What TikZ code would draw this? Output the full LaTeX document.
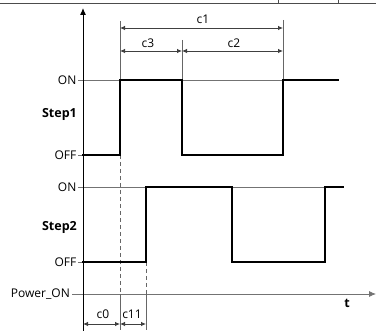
\documentclass[tikz,border=0pt]{standalone}
\usepackage{fontspec}
\setmainfont{Open Sans}
\usetikzlibrary{arrows.meta}
\begin{document}
\begin{tikzpicture}[x=1pt,y=-1pt,
  grid/.style={draw=black!55,line width=0.8pt},
  sig/.style={draw=black,line width=2.4pt,line cap=rect,line join=miter},
  dimline/.style={draw=black!75,line width=0.8pt,{Latex[length=5pt,width=4.5pt]}-{Latex[length=5pt,width=4.5pt]}},
  ext/.style={draw=black!60,line width=0.9pt},
  dsh/.style={draw=black!60,line width=0.9pt,dash pattern=on 4pt off 3pt},
  lab/.style={font=\fontsize{12}{14}\selectfont,inner sep=1pt},
  blab/.style={font=\fontsize{12.5}{15}\selectfont\bfseries,inner sep=1pt}]
\useasboundingbox (0,0) rectangle (376,331);
% cropped table row at top
\draw[draw=black!70,line width=0.8pt] (0,3.5) -- (376,3.5);
\draw[draw=black!70,line width=0.8pt] (278,0) -- (278,3.5) (338,0) -- (338,3.5);
% coordinates
\coordinate (o) at (83,331);
\coordinate (ytop) at (83,8);
\coordinate (pl) at (72,294);
\coordinate (pr) at (376,294);
% grid / ON levels
\draw[grid] (78,80) -- (283,80);
\draw[grid] (78,187) -- (325,187);
\draw[grid] (78,155) -- (83,155);
\draw[grid] (78,262) -- (83,262);
\draw[grid,-{Latex[length=7pt,width=6pt]}] (pl) -- (pr);
% y axis
\draw[draw=black,line width=1pt,-{Latex[length=7pt,width=6pt]}] (o) -- (ytop);
% extension lines
\draw[ext] (120,21) -- (120,80);
\draw[ext] (182,40) -- (182,80);
\draw[ext] (283,20) -- (283,80);
% dashed lines
\draw[dsh] (120,155) -- (120,294);
\draw[dsh] (146,262) -- (146,294);
\draw[ext] (120,294) -- (120,330);
\draw[ext] (146,294) -- (146,330);
% dimension arrows
\coordinate (c1a) at (120,28); \coordinate (c1b) at (283,28);
\coordinate (c3a) at (120,51); \coordinate (c3b) at (182,51);
\coordinate (c2a) at (182,51); \coordinate (c2b) at (283,51);
\coordinate (c0a) at (83,324); \coordinate (c0b) at (120,324);
\coordinate (c11a) at (120,324); \coordinate (c11b) at (146,324);
\draw[dimline] (c1a) -- (c1b);
\draw[dimline] (c3a) -- (c3b);
\draw[dimline] (c2a) -- (c2b);
\draw[dimline] (c0a) -- (c0b);
\draw[dimline] (c11a) -- (c11b);
\node[lab] (lc1) at (203,19) {c1};
\node[lab] (lc3) at (148,43) {c3};
\node[lab] (lc2) at (234,43) {c2};
\node[lab] (lc0) at (103,314) {c0};
\node[lab] (lc11) at (132,314) {c11};
% signals
\draw[sig] (83,155) -- (120,155) -- (120,80) -- (182,80) -- (182,155) -- (283,155) -- (283,80) -- (338,80);
\draw[sig] (83,262) -- (146,262) -- (146,187) -- (232,187) -- (232,262) -- (325,262) -- (325,187) -- (343,187);
% labels
\node[lab,anchor=east] (on1) at (77.5,80) {ON};
\node[lab,anchor=east] (off1) at (77.5,155) {OFF};
\node[lab,anchor=east] (on2) at (77.5,187) {ON};
\node[lab,anchor=east] (off2) at (77.5,262) {OFF};
\node[lab,anchor=east] (pon) at (71,294) {Power\_ON};
\node[blab,anchor=east] (s1) at (78,114) {Step1};
\node[blab,anchor=east] (s2) at (78,227) {Step2};
\node[blab] (t) at (347,303) {t};
\end{tikzpicture}
\end{document}
